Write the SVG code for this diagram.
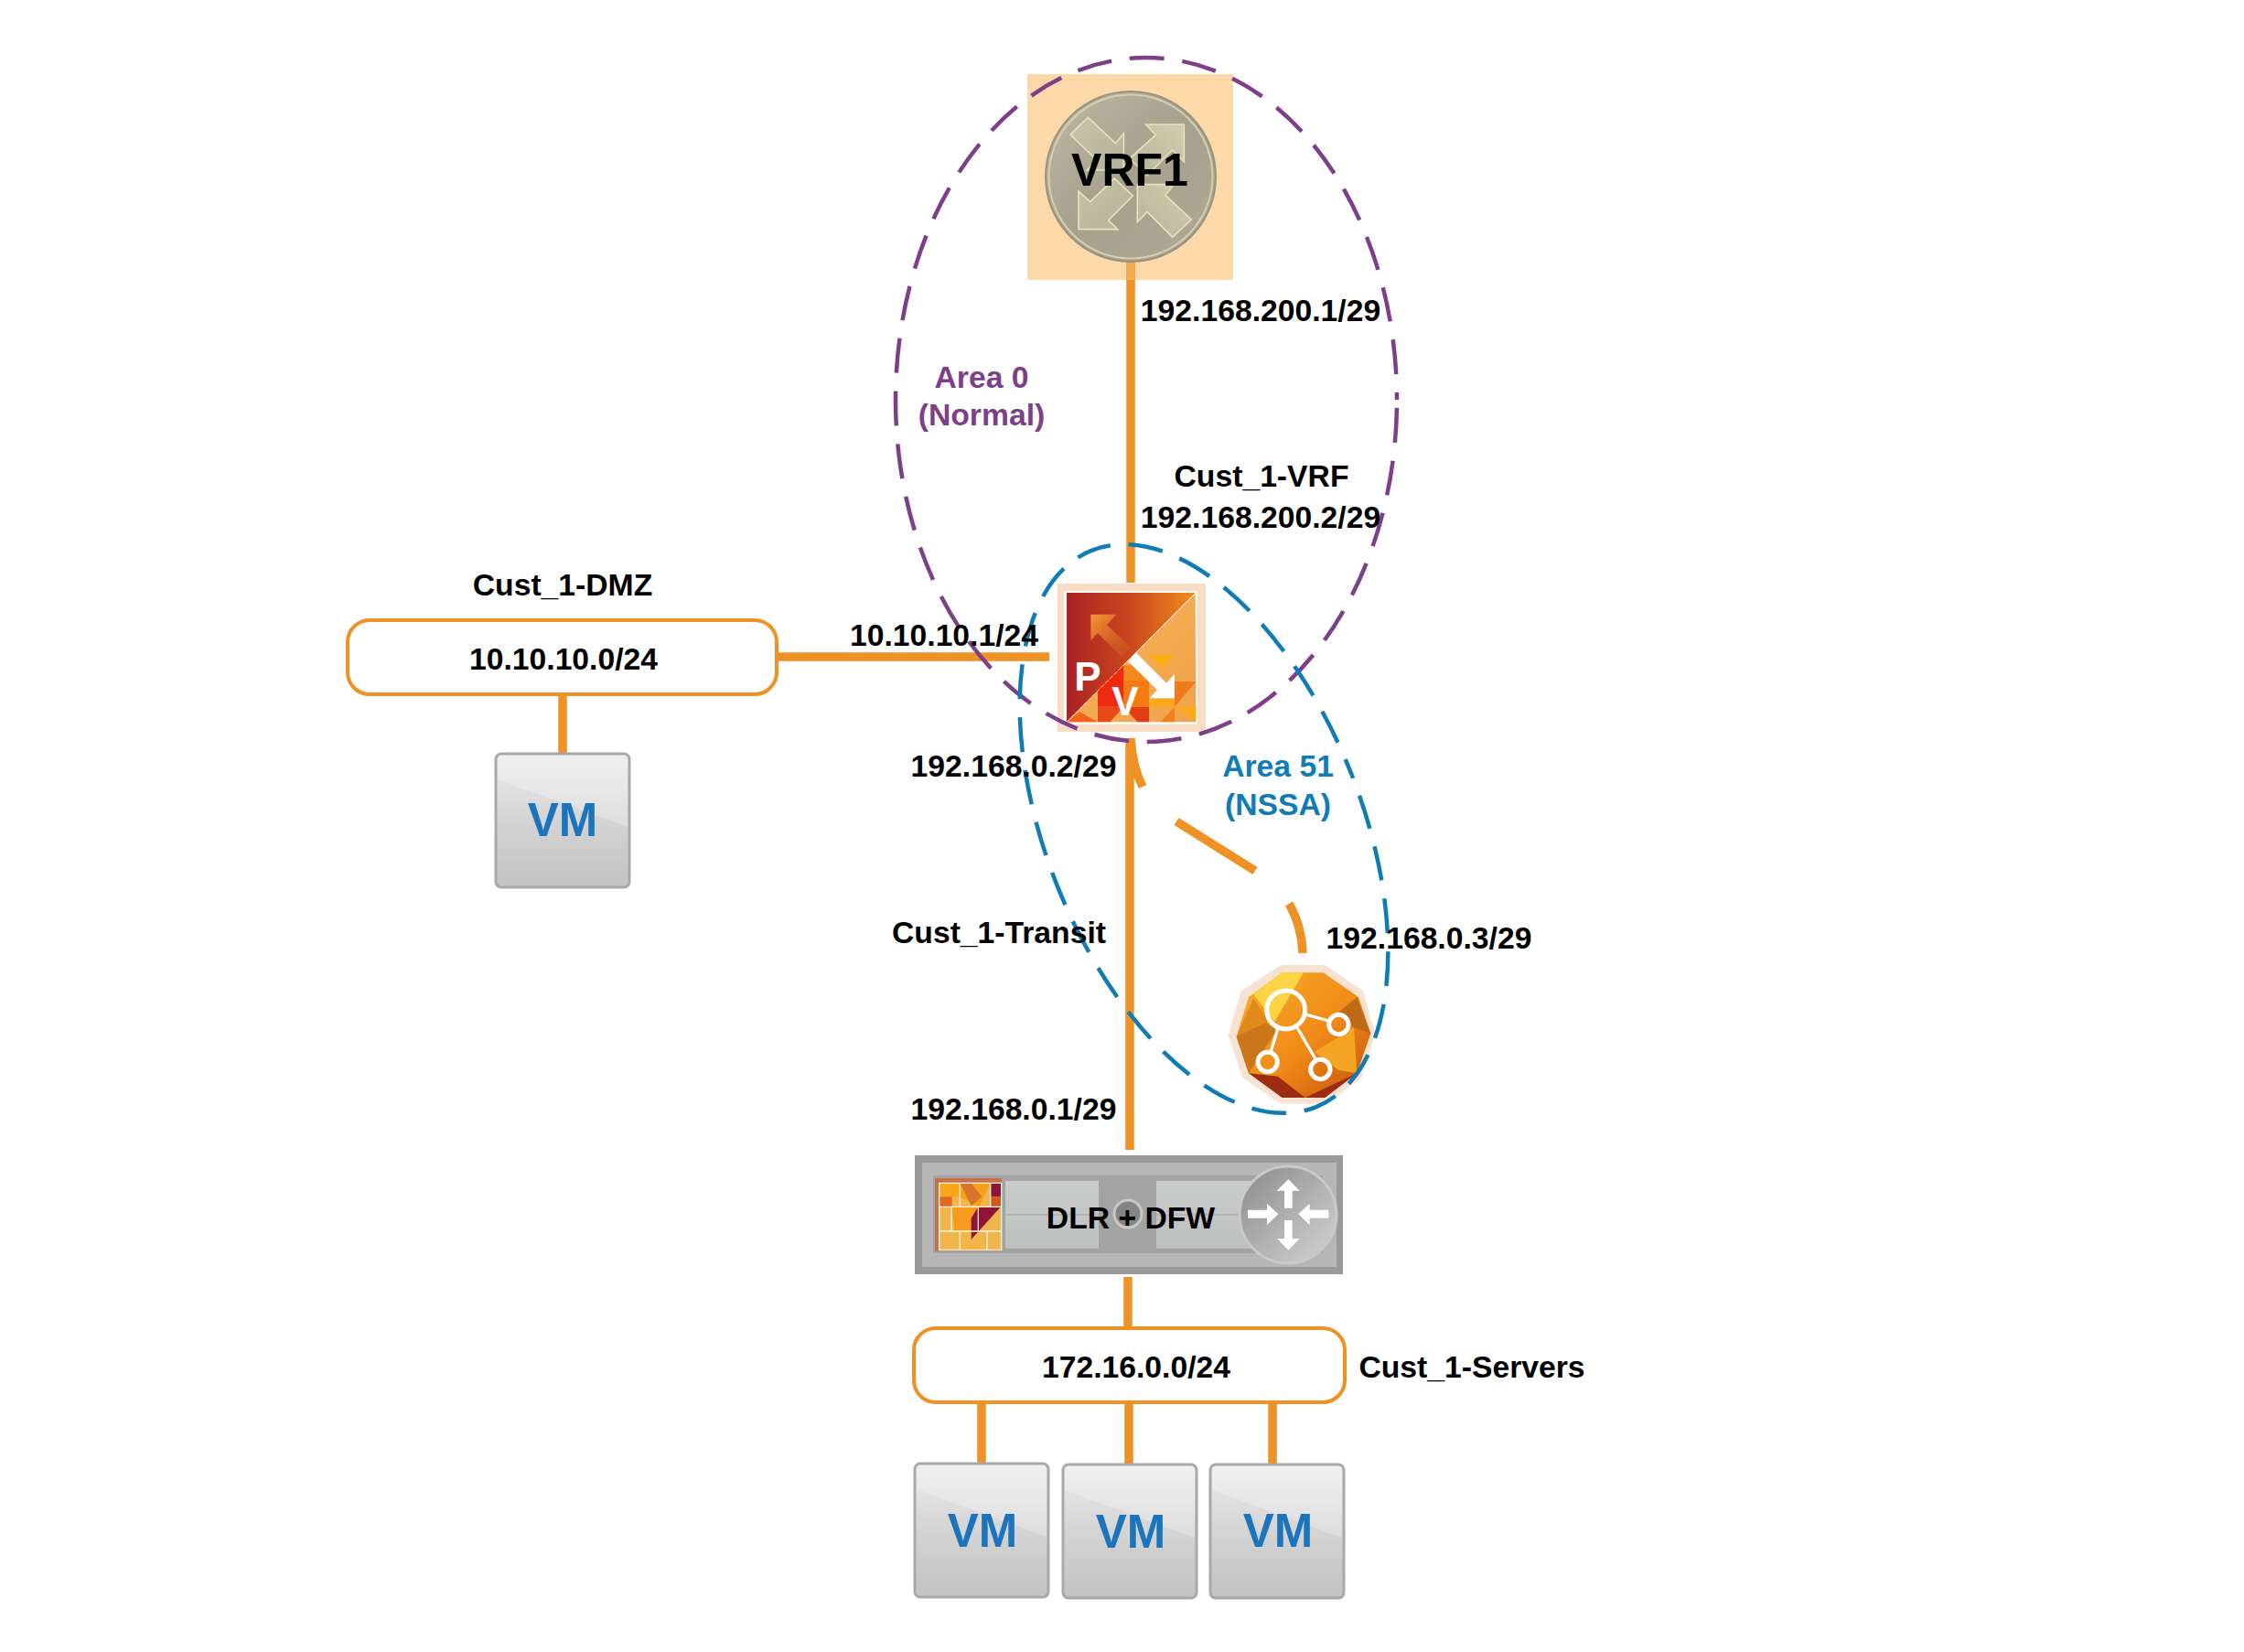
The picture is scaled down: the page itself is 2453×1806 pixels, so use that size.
<svg xmlns="http://www.w3.org/2000/svg" width="2453" height="1806" viewBox="0 0 2453 1806">
<style>
text{font-family:"Liberation Sans",Arial,sans-serif;font-weight:700;font-size:33.7px;fill:#000;text-anchor:middle}
.c{fill:none;stroke:#ef9225;stroke-width:9.5}
.net{fill:#fff;stroke:#ef9225;stroke-width:4}
.area{fill:none;stroke-width:4.5;stroke-dasharray:38 20}
.vmb{fill:url(#vmg);stroke:#a9a9a9;stroke-width:3}
.vms{fill:#fff;opacity:.25}
.vmt{fill:#1c75bc;font-size:51px}
.wh{fill:#fff}
.ar{stroke:#ecdfbb;stroke-width:5}
.grid{stroke:#fff6e0;stroke-width:4;fill:none}
</style>
<defs>
<linearGradient id="vmg" x1="0" y1="0" x2="0" y2="1"><stop offset="0" stop-color="#ececec"/><stop offset=".55" stop-color="#d2d2d2"/><stop offset="1" stop-color="#c2c2c2"/></linearGradient>
<linearGradient id="vrfg" x1="0" y1="0" x2="1" y2="1"><stop offset="0" stop-color="#bdb9a3"/><stop offset=".5" stop-color="#a5a18d"/><stop offset="1" stop-color="#aeaa95"/></linearGradient>
<linearGradient id="ar1" x1="0" y1="0" x2="1" y2="1"><stop offset="0" stop-color="#c9c5a8"/><stop offset="1" stop-color="#b4b09b"/></linearGradient>
<linearGradient id="ar2" x1="0" y1="1" x2="1" y2="0"><stop offset="0" stop-color="#b5b19a"/><stop offset="1" stop-color="#d3ceaf"/></linearGradient>
<linearGradient id="pv1" x1="0" y1="0" x2="1" y2="0"><stop offset="0" stop-color="#ab2226"/><stop offset=".5" stop-color="#c9481e"/><stop offset="1" stop-color="#f28c1e"/></linearGradient>
<linearGradient id="pv2" x1="0" y1="0" x2="1" y2="1"><stop offset="0" stop-color="#f8b45a"/><stop offset="1" stop-color="#f0a24a"/></linearGradient>
<linearGradient id="pva" x1="1" y1="1" x2="0" y2="0"><stop offset="0" stop-color="#e0701f" stop-opacity=".1"/><stop offset="1" stop-color="#f39a35"/></linearGradient>
<linearGradient id="rg" x1="0" y1="0" x2="1" y2="1"><stop offset="0" stop-color="#f9b02a"/><stop offset=".55" stop-color="#f08a18"/><stop offset="1" stop-color="#c2500f"/></linearGradient>
<linearGradient id="dc" x1="0" y1="0" x2="1" y2="1"><stop offset="0" stop-color="#8a8a8a"/><stop offset="1" stop-color="#d4d4d4"/></linearGradient>
<linearGradient id="pan" x1="0" y1="0" x2="0" y2="1"><stop offset="0" stop-color="#cacccc"/><stop offset="1" stop-color="#bec0c0"/></linearGradient>
<g id="vm">
<rect class="vmb" x="0" y="0" width="146" height="146" rx="6"/>
<path class="vms" d="M2 28L144 80V8Q144 2 138 2H8Q2 2 2 8Z"/>
</g>
</defs>
<rect width="2453" height="1806" fill="#fff"/>

<g id="connectors">
<path class="c" d="M1236 306V637"/>
<path class="c" d="M1235 807V1257"/>
<path class="c" d="M1236 807Q1238 838 1249 860"/>
<path class="c" d="M1286 898L1372 952"/>
<path class="c" d="M1409 988Q1423 1012 1424 1042"/>
<path class="c" d="M850 718H1147"/>
<path class="c" d="M615 759V842"/>
<path class="c" d="M1233 1396V1451"/>
<path class="c" d="M1073 1533V1600"/>
<path class="c" d="M1234 1533V1601"/>
<path class="c" d="M1391 1533V1601"/>
</g>

<g id="vrf1">
<rect x="1123" y="81" width="225" height="225" fill="#fdd9a9"/>
<rect x="1231" y="286" width="10" height="20" fill="#f5ab4f"/>
<circle cx="1236" cy="193" r="93" fill="url(#vrfg)" stroke="#98937f" stroke-width="2"/>
<circle cx="1236" cy="193" r="89.5" fill="none" stroke="#d5cfae" stroke-width="2"/>
<g transform="translate(1100 60) scale(.33333)">
<polygon class="ar" fill="url(#ar1)" points="268,205 358,290 385,258 385,378 265,378 297,345 210,262"/>
<polygon class="ar" fill="url(#ar2)" points="458,228 583,228 583,350 545,312 462,395 405,340 490,262"/>
<polygon class="ar" fill="url(#ar1)" points="237,447 275,482 355,405 415,462 335,543 365,572 237,572"/>
<polygon class="ar" fill="url(#ar2)" points="430,425 550,425 522,460 607,540 545,598 462,515 430,548"/>
</g>
<text x="1235" y="203" style="font-size:50px">VRF1</text>
</g>

<g id="pv-router">
<rect x="1156" y="638" width="162" height="162" fill="#f9dcc4"/>
<rect x="1163" y="646" width="146" height="146" fill="#fdf3e6"/>
<g transform="translate(1130 620) scale(.33333)">
<rect x="100" y="80" width="436" height="434" fill="#fff"/>
<polygon points="108,84 530,84 108,508" fill="url(#pv1)"/>
<polygon points="530,88 532,508 108,508" fill="url(#pv2)"/>
<polygon points="295,322 295,372 378,372 338,322" fill="#f58a1c"/>
<polygon points="210,392 295,322 295,458 210,458" fill="#ee2a10"/>
<polygon points="108,508 150,475 210,508" fill="#f4621c"/>
<polygon points="210,458 295,458 250,508 210,508" fill="#e8481c"/>
<polygon points="295,458 378,458 378,508 340,508" fill="#e63c14"/>
<polygon points="295,372 378,372 378,458 295,458" fill="#f57a14"/>
<polygon points="378,288 462,288 420,330" fill="#fbad12"/>
<polygon points="378,432 462,432 462,458 378,458" fill="#fba81a"/>
<polygon points="462,375 532,375 462,458" fill="#ef7a1e"/>
<polygon points="462,458 532,458 532,508" fill="#fba81a"/>
<polygon points="462,458 462,508 415,508" fill="#ee8020"/>
<polygon points="270,155 187,155 187,240 210,217 290,295 320,265 240,190" fill="url(#pva)"/>
<path d="M108 508L530 86" fill="none" stroke="#fde3c0" stroke-width="3" stroke-dasharray="14 6"/>
<polygon class="wh" points="310,310 335,280 435,380 462,350 462,430 380,430 405,403"/>
</g>
<text x="1189" y="755" style="font-size:44px;fill:#fff">P</text>
<text x="1230" y="782" style="font-size:44px;fill:#fff">V</text>
</g>

<g id="ospf-router">
<g transform="translate(1320 1030) scale(.33333)">
<polygon points="240,75 385,75 510,160 550,300 505,445 390,530 240,530 115,445 68,305 110,160" fill="#f8e2d2"/>
<polygon points="245,100 380,100 495,180 535,300 490,430 385,510 245,510 135,430 95,310 135,180" fill="url(#rg)"/>
<polygon points="245,100 315,100 220,260 150,170" fill="#fcd544"/>
<polygon points="95,310 150,185 225,290 135,430" fill="#e08a1c"/>
<polygon points="95,310 190,265 225,290 135,430" fill="#c9771a"/>
<polygon points="535,300 490,180 430,230 480,280" fill="#bf6a16"/>
<polygon points="350,360 480,280 490,430 430,420" fill="#f5a524"/>
<polygon points="135,430 245,510 385,510 490,430 320,510 230,440" fill="#9c2c12"/>
<g fill="none" stroke="#fff" stroke-width="15">
<circle cx="257" cy="222" r="63"/>
<circle cx="430" cy="270" r="32"/>
<circle cx="197" cy="393" r="32"/>
<circle cx="370" cy="417" r="32"/>
</g>
<path d="M325 238L398 258M230 285L208 358M295 282L355 385" stroke="#fff" stroke-width="10" fill="none"/>
</g>
</g>

<g id="dlr-dfw">
<rect x="1000" y="1263" width="468" height="130" fill="#999"/>
<rect x="1008" y="1271" width="453" height="114" fill="#b6b6b6"/>
<rect x="1020" y="1285" width="426" height="85" fill="#a3a3a3"/>
<rect x="1099" y="1291" width="102" height="74" fill="url(#pan)"/>
<rect x="1264" y="1291" width="116" height="74" fill="url(#pan)"/>
<path d="M1099 1328H1201M1264 1328H1380" stroke="#b4b6b6" stroke-width="2"/>
<circle cx="1233" cy="1327" r="15" fill="#858585" stroke="#c8c8c8" stroke-width="3"/>
<rect x="1022" y="1288" width="73" height="80" fill="#c9704a"/>
<g transform="translate(990 1250) scale(.33333)">
<rect x="110" y="130" width="205" height="220" fill="#f0b64c"/>
<polygon points="110,130 178,130 178,175 110,175" fill="#f9a71a"/>
<polygon points="178,130 278,130 240,210 178,175" fill="#f8a01c"/>
<polygon points="278,130 312,130 312,175 278,175" fill="#8e1538"/>
<polygon points="110,175 152,175 152,208 110,208" fill="#e5651c"/>
<polygon points="150,208 238,208 238,285 160,285" fill="#f79a1e"/>
<polygon points="238,208 312,208 215,315 215,245" fill="#8e1538"/>
<polygon points="178,130 215,130 250,175 215,205" fill="#d9742a"/>
<polygon points="278,175 312,175 312,208 278,208" fill="#d6561e"/>
<path class="grid" d="M110 130H314V350H110ZM178 130V208M278 130V208M110 208H314M150 208V288M238 208V288M110 288H314M178 288V350M267 288V350"/>
</g>
<circle cx="1408" cy="1328" r="53" fill="url(#dc)" stroke="#c9c9c9" stroke-width="3"/>
<g transform="translate(990 1250) scale(.33333)" class="wh">
<polygon points="1255,118 1292,155 1268,155 1268,212 1242,212 1242,155 1217,155"/>
<polygon points="1255,350 1218,312 1242,312 1242,252 1268,252 1268,312 1292,312"/>
<polygon points="1122,218 1185,218 1185,197 1222,232 1185,268 1185,245 1122,245"/>
<polygon points="1387,218 1325,218 1325,197 1288,232 1325,268 1325,245 1387,245"/>
</g>
<text x="1236" y="1343">DLR + DFW</text>
</g>

<g id="areas">
<ellipse id="area0" class="area" cx="1253" cy="437" rx="274" ry="374" stroke="#7d3f8a" stroke-dashoffset="-9"/>
<ellipse id="area51" class="area" cx="1316" cy="906" rx="172" ry="328" transform="rotate(-22 1316 906)" stroke="#0f7cb5" stroke-dashoffset="-30"/>
</g>

<g id="net-dmz">
<rect class="net" x="380" y="678" width="469" height="81" rx="24"/>
<text x="616" y="732">10.10.10.0/24</text>
</g>
<g id="net-servers">
<rect class="net" x="999" y="1452" width="471" height="81" rx="24"/>
<text x="1242" y="1506">172.16.0.0/24</text>
</g>

<g id="vm1"><use href="#vm" x="542" y="824"/><text class="vmt" x="615" y="914">VM</text></g>
<g id="vm2"><use href="#vm" x="1000" y="1600"/><text class="vmt" x="1074" y="1691">VM</text></g>
<g id="vm3"><use href="#vm" x="1162" y="1601"/><text class="vmt" x="1236" y="1692">VM</text></g>
<g id="vm4"><use href="#vm" x="1323" y="1601"/><text class="vmt" x="1397" y="1691">VM</text></g>

<g id="labels">
<text x="1378" y="351">192.168.200.1/29</text>
<text x="1379" y="532">Cust_1-VRF</text>
<text x="1378" y="577">192.168.200.2/29</text>
<text x="1073" y="424" style="fill:#7d3f8a">Area 0</text>
<text x="1073" y="465" style="fill:#7d3f8a">(Normal)</text>
<text x="615" y="651">Cust_1-DMZ</text>
<text x="1032" y="706">10.10.10.1/24</text>
<text x="1108" y="849">192.168.0.2/29</text>
<text x="1397" y="849" style="fill:#0f7cb5">Area 51</text>
<text x="1397" y="891" style="fill:#0f7cb5">(NSSA)</text>
<text x="1092" y="1031">Cust_1-Transit</text>
<text x="1562" y="1037">192.168.0.3/29</text>
<text x="1108" y="1224">192.168.0.1/29</text>
<text x="1609" y="1506">Cust_1-Servers</text>
</g>
</svg>
